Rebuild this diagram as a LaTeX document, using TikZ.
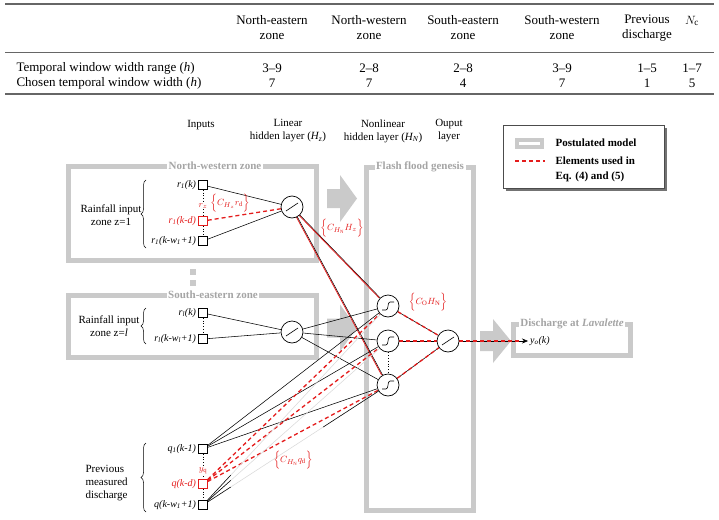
\documentclass[tikz,border=0pt]{standalone}
\usepackage{fontspec}
\setmainfont{Liberation Serif}
\usetikzlibrary{positioning,calc,arrows.meta,decorations.pathreplacing}
\pgfdeclarelayer{cadre}
\pgfdeclarelayer{liens}
\pgfsetlayers{cadre,liens,main}
\definecolor{grisbloc}{RGB}{202,202,202}
\definecolor{gristitre}{RGB}{165,165,165}
\definecolor{rouge}{RGB}{228,28,28}
\begin{document}
\begin{tikzpicture}[
    x=1pt, y=-1pt,
    font=\fontsize{11}{13}\selectfont,
    % Neurones et entrées
    neurone/.style={circle, draw, fill=white, minimum size=22pt, inner sep=0pt, line width=0.7pt},
    lineaire/.style={neurone, path picture={
        \coordinate (pc) at (path picture bounding box.center);
        \draw[line width=0.6pt] ([shift={(-6pt,-4pt)}]pc) -- ([shift={(6pt,4pt)}]pc);}},
    sigmoide/.style={neurone, path picture={
        \coordinate (pc) at (path picture bounding box.center);
        \draw[line width=0.6pt] ([shift={(-6pt,-4pt)}]pc) -- ([shift={(-2pt,-4pt)}]pc)
            .. controls ([shift={(1pt,-4pt)}]pc) and ([shift={(-1pt,4pt)}]pc) .. ([shift={(2pt,4pt)}]pc)
            -- ([shift={(6pt,4pt)}]pc);}},
    entree/.style={draw, fill=white, line width=1pt, minimum size=8.5pt, inner sep=0pt},
    entreerouge/.style={entree, draw=rouge},
    var/.style={font=\fontsize{10}{12}\selectfont\itshape, inner sep=1pt},
    % Cadres gris
    cadre/.style={draw=grisbloc, line width=5pt},
    titre/.style={fill=white, text=gristitre, font=\fontsize{11}{13}\selectfont\bfseries, inner sep=1.5pt},
    fleche/.style={fill=grisbloc},
    % Liens
    lien/.style={line width=0.55pt},
    lienrouge/.style={draw=rouge, line width=0.8pt, transform canvas={xshift=-1pt}},
    rougepointille/.style={draw=rouge, line width=1.3pt, dash pattern=on 4pt off 3pt},
    pointille/.style={dotted, line width=0.8pt},
    etiq/.style={text=rouge, font=\fontsize{9.5}{11}\selectfont},
    accolade/.style={decorate, decoration={brace, amplitude=5pt}, line width=0.5pt},
    tableau/.style={font=\fontsize{13}{15}\selectfont, align=center},
]
\useasboundingbox (0,0) rectangle (719,519);

% Tableau
\draw[line width=1.3pt, black!60] (5,4) -- (714,4);
\draw[line width=0.6pt, black!60] (5,52) -- (714,52);
\draw[line width=1.3pt, black!60] (5,94) -- (714,94);
\node[tableau] (tNE) at (272,28) {North-eastern\\zone};
\node[tableau] (tNO) at (369,28) {North-western\\zone};
\node[tableau] (tSE) at (463,28) {South-eastern\\zone};
\node[tableau] (tSO) at (562,28) {South-western\\zone};
\node[tableau] (tQ) at (647,28) {Previous\\discharge};
\node[tableau] (tNc) at (692,21) {$N_\mathrm{c}$};
\node[tableau, anchor=west] (tL1) at (13,68) {Temporal window width range (\textit{h})};
\node[tableau, anchor=west] (tL2) at (13,83) {Chosen temporal window width (\textit{h})};
\node[tableau] (v11) at (272,68) {3--9};
\node[tableau] (v12) at (369,68) {2--8};
\node[tableau] (v13) at (463,68) {2--8};
\node[tableau] (v14) at (562,68) {3--9};
\node[tableau] (v15) at (647,68) {1--5};
\node[tableau] (v16) at (692,68) {1--7};
\node[tableau] (v21) at (272,83) {7};
\node[tableau] (v22) at (369,83) {7};
\node[tableau] (v23) at (463,83) {4};
\node[tableau] (v24) at (562,83) {7};
\node[tableau] (v25) at (647,83) {1};
\node[tableau] (v26) at (692,83) {5};

% En-têtes des couches
\node (hEntrees) at (201,125) {Inputs};
\node[align=center] (hLin) at (288,131) {Linear\\hidden layer (\textit{H\textsubscript{z}})};
\node[align=center] (hNonlin) at (383,131) {Nonlinear\\hidden layer (\textit{H\textsubscript{N}})};
\node[align=center] (hSortie) at (449,131) {Ouput\\layer};

% Légende
\fill[black!55] (506,128) rectangle (667,191);
\draw[draw=black!70, fill=white, line width=0.6pt] (503,125) rectangle (664,188);
\draw[grisbloc, line width=3.5pt] (517,140) rectangle (542,147);
\node[anchor=west, font=\fontsize{11}{13}\selectfont\bfseries] (lgModele) at (552,143) {Postulated model};
\draw[rougepointille] (515,161) -- (545,161);
\node[anchor=west, align=left, font=\fontsize{11}{15}\selectfont\bfseries] (lgRouge) at (552,169) {Elements used in\\Eq. (4) and (5)};

% Cadres et flèches
\begin{pgfonlayer}{cadre}
\draw[cadre, fill=white] (68,166) rectangle (316,260);
\node[titre] (zNO) at (215,166) {North-western zone};
\draw[cadre, fill=white] (68,295) rectangle (316,357);
\node[titre] (zSE) at (213,295) {South-eastern zone};
\draw[cadre, fill=white] (366,167) rectangle (473,510);
\node[titre] (zCrue) at (420,167) {Flash flood genesis};
\draw[cadre, fill=white] (513,324) rectangle (630,355);
\node[titre] (zDebit) at (572,324) {Discharge at \textit{Lavalette}};
\fill[fleche] (327,189) -- (340,189) -- (340,175) -- (357,198.5) -- (340,222) -- (340,208) -- (327,208) -- cycle;
\fill[fleche] (327,318.5) -- (340,318.5) -- (340,304.5) -- (357,328) -- (340,351.5) -- (340,337.5) -- (327,337.5) -- cycle;
\fill[fleche] (480,331) -- (493,331) -- (493,319) -- (511,341) -- (493,363) -- (493,351) -- (480,351) -- cycle;
\fill[grisbloc] (190,269) rectangle (196,275);
\fill[grisbloc] (190,280) rectangle (196,286);
\end{pgfonlayer}

% Zone nord-ouest
\node[entree] (r1) at (203,185) {};
\node[entreerouge] (r1d) at (203,221) {};
\node[entree] (r1w) at (203,241) {};
\node[var, left=1pt of r1] (lr1) {r\textsubscript{1}(k)};
\node[var, left=1pt of r1d, text=rouge] (lr1d) {r\textsubscript{1}(k-d)};
\node[var, left=1pt of r1w] (lr1w) {r\textsubscript{1}(k-w\textsubscript{1}+1)};
\node[etiq, fill=white, inner sep=0.5pt] (rz) at (203,206) {$r_z$};
\node[etiq] (cHz) at (230,203) {$\Big\{C_{H_z} r_\mathrm{d}\Big\}$};
\coordinate (b1h) at (146,180);
\coordinate (b1b) at (146,248);
\node[align=center] (tPluie1) at (111,215) {Rainfall input\\zone z=1};
\node[lineaire] (h1) at (292,207) {};

% Zone sud-est
\node[entree] (rl) at (203,313) {};
\node[entree] (rlw) at (203,339) {};
\node[var, left=1pt of rl] (lrl) {r\textsubscript{l}(k)};
\node[var, left=1pt of rlw] (lrlw) {r\textsubscript{l}(k-w\textsubscript{l}+1)};
\coordinate (b2h) at (146,308);
\coordinate (b2b) at (146,344);
\node[align=center] (tPluie2) at (109,326) {Rainfall input\\zone z=\textit{l}};
\node[lineaire] (h2) at (292,332) {};

% Débit mesuré
\node[entree] (q1) at (203,449) {};
\node[entreerouge] (qd) at (203,484) {};
\node[entree] (qw) at (203,505) {};
\node[var, left=1pt of q1] (lq1) {q\textsubscript{1}(k-1)};
\node[var, left=1pt of qd, text=rouge] (lqd) {q(k-d)};
\node[var, left=1pt of qw] (lqw) {q(k-w\textsubscript{1}+1)};
\node[etiq, fill=white, inner sep=0.5pt] (yq) at (203,471) {$y_\mathrm{q}$};
\coordinate (b3h) at (146,443);
\coordinate (b3b) at (146,512);
\node[align=left, anchor=west] (tDebit) at (82,483) {Previous\\measured\\discharge};

% Couche non linéaire et sortie
\node[sigmoide] (n1) at (388,306) {};
\node[sigmoide] (n2) at (388,341) {};
\node[sigmoide] (n3) at (388,385) {};
\node[lineaire] (o) at (448,341) {};
\coordinate (yo) at (528,341);
\node[var, right=1pt of yo] (lyo) {y\textsubscript{o}(k)};
\node[etiq] (cHN) at (342,228) {$\Big\{C_{H_\mathrm{N}} H_z\Big\}$};
\node[etiq] (cO) at (428,302) {$\Big\{C_\mathrm{O} H_\mathrm{N}\Big\}$};
\node[etiq] (cq) at (293,460) {$\Big\{C_{H_\mathrm{N}} q_\mathrm{d}\Big\}$};

\begin{pgfonlayer}{liens}
% accolades
\draw[accolade] (b1b) -- (b1h);
\draw[accolade] (b2b) -- (b2h);
\draw[accolade] (b3b) -- (b3h);
% entrées vers couche linéaire
\draw[pointille] (r1) -- (r1d);
\draw[pointille] (r1d) -- (r1w);
\draw[lien] (r1) -- (h1);
\draw[lien] (r1w) -- (h1);
\draw[rougepointille] (r1d) -- (h1);
\draw[pointille] (rl) -- (rlw);
\draw[lien] (rl) -- (h2);
\draw[lien] (rlw) -- (h2);
% couche linéaire vers couche non linéaire
\draw[lien] (h1) -- (n1);
\draw[lienrouge] (h1) -- (n1);
\draw[lien] (h1) -- (n3);
\draw[lienrouge] (h1) -- (n3);
\draw[lien] (h2) -- (n1);
\draw[lien] (h2) -- (n2);
\draw[lien] (h2) -- (n3);
% débits vers couche non linéaire
\draw[pointille] (q1) -- (qd);
\draw[pointille] (qd) -- (qw);
\draw[lien] (q1) -- (n1);
\draw[lien] (q1) -- (n2);
\draw[lien] (q1) -- (n3);
\draw[rougepointille] (qd) -- (n1);
\draw[rougepointille] (qd) -- (n2);
\draw[rougepointille] (qd) -- (n3);
\draw[lien, black!15] (qw) -- (n1);
\draw[lien, black!15] (qw) -- (n2);
\draw[lien, black!15] (qw) -- (n3);
\draw[lien] (qw) -- ($(qw)!0.15!(n1)$);
\draw[lien] (qw) -- ($(qw)!0.15!(n2)$);
\draw[lien] (qw) -- ($(qw)!0.15!(n3)$);
\draw[lien] ($(qw)!0.65!(n3)$) -- (n3);
% vers la sortie
\draw[pointille] (n2) -- (n3);
\draw[lien] (n1) -- (o);
\draw[lien] (n2) -- (o);
\draw[lien] (n3) -- (o);
\draw[rougepointille] (n1) -- (o);
\draw[rougepointille] (n2) -- (o);
\draw[rougepointille] (n3) -- (o);
\draw[lien, -{Stealth[length=6pt,width=5pt]}] (o) -- (yo);
\draw[rougepointille] (o) -- ([xshift=-6pt]yo);
\end{pgfonlayer}
\end{tikzpicture}
\end{document}
